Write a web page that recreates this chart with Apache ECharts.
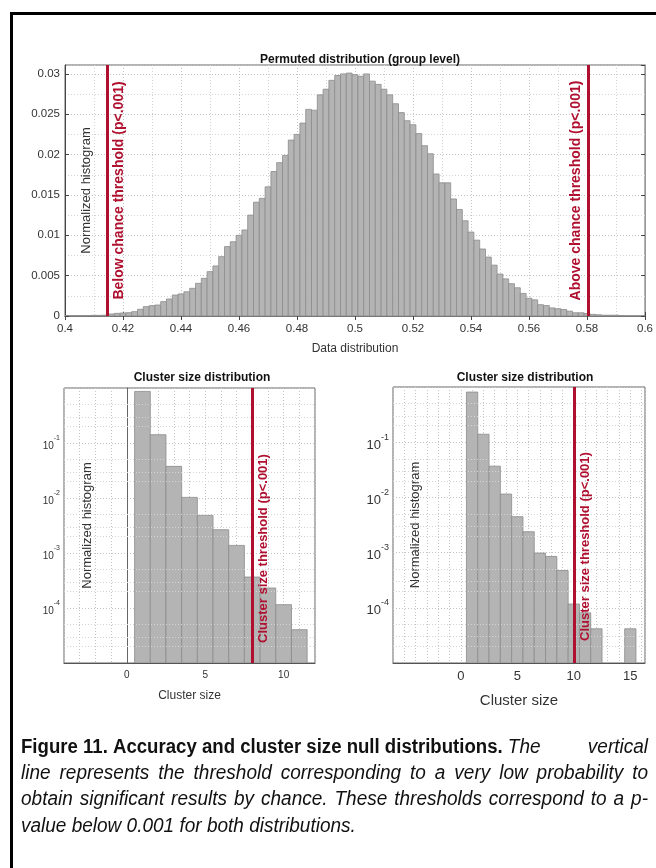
<!DOCTYPE html>
<html>
<head>
<meta charset="utf-8">
<script src="https://cdn.jsdelivr.net/npm/echarts@6/dist/echarts.min.js"></script>
<style>
html, body { margin: 0; padding: 0; background: #fff; }
#chart { width: 656px; height: 868px; }
</style>
</head>
<body>
<div id="chart"></div>
<script>
// permuted (group level) histogram, bin width 0.002
var permCenters = [
  0.400, 0.402, 0.404, 0.406, 0.408, 0.410, 0.412, 0.414, 0.416, 0.418,
  0.420, 0.422, 0.424, 0.426, 0.428, 0.430, 0.432, 0.434, 0.436, 0.438,
  0.440, 0.442, 0.444, 0.446, 0.448, 0.450, 0.452, 0.454, 0.456, 0.458,
  0.460, 0.462, 0.464, 0.466, 0.468, 0.470, 0.472, 0.474, 0.476, 0.478,
  0.480, 0.482, 0.484, 0.486, 0.488, 0.490, 0.492, 0.494, 0.496, 0.498,
  0.500, 0.502, 0.504, 0.506, 0.508, 0.510, 0.512, 0.514, 0.516, 0.518,
  0.520, 0.522, 0.524, 0.526, 0.528, 0.530, 0.532, 0.534, 0.536, 0.538,
  0.540, 0.542, 0.544, 0.546, 0.548, 0.550, 0.552, 0.554, 0.556, 0.558,
  0.560, 0.562, 0.564, 0.566, 0.568, 0.570, 0.572, 0.574, 0.576, 0.578,
  0.580, 0.582, 0.584, 0.586, 0.588, 0.590, 0.592, 0.594, 0.596, 0.598,
  0.600
]
var permValues = [
  0.00005, 0.00005, 0.00005, 0.00005, 0.00005, 0.00008, 0.00008, 0.0001, 0.00025, 0.00033,
  0.00037, 0.00041, 0.00054, 0.00083, 0.00116, 0.00128, 0.00136, 0.00178, 0.00211, 0.0026,
  0.00273, 0.0030, 0.00343, 0.00405, 0.00467, 0.0055, 0.0062, 0.00735, 0.0086, 0.0092,
  0.0100, 0.01066, 0.0125, 0.0141, 0.01458, 0.0160, 0.0179, 0.0190, 0.0199, 0.0218,
  0.0225, 0.0239, 0.0256, 0.0255, 0.0274, 0.0281, 0.0292, 0.0298, 0.0300, 0.0301,
  0.0299, 0.0297, 0.0300, 0.0291, 0.0287, 0.0281, 0.0274, 0.0263, 0.0252, 0.0242,
  0.0237, 0.0226, 0.0211, 0.0201, 0.0176, 0.0165, 0.0165, 0.0145, 0.0132, 0.0118,
  0.0104, 0.0094, 0.0083, 0.0073, 0.0063, 0.0052, 0.0046, 0.0040, 0.0035, 0.0028,
  0.0022, 0.0020, 0.0014, 0.0013, 0.0010, 0.0009, 0.0008, 0.0006, 0.0004, 0.0004,
  0.0003, 0.0002, 0.00015, 0.0001, 0.0001, 0.0001, 0.00005, 0, 0, 0,
  0
]
var permBinWidth = 0.002
var permLowThreshold = 0.4146
var permHighThreshold = 0.5805

// cluster size histograms (log scale)
var clusterSizesA = [1, 2, 3, 4, 5, 6, 7, 8, 9, 10, 11]
var clusterValuesA = [0.867, 0.1415, 0.0376, 0.01026, 0.00483, 0.00265, 0.001374, 0.000366, 0.000231, 0.000115, 0.0000403]
var clusterThresholdA = 8

var clusterSizesB = [1, 2, 3, 4, 5, 6, 7, 8, 9, 10, 11, 12, 15]
var clusterValuesB = [0.81, 0.1395, 0.0368, 0.0115, 0.00447, 0.00239, 0.00098, 0.00085, 0.000473, 0.000117, 0.0000813, 0.0000417, 0.0000417]
var clusterThresholdB = 10

// minor log grid: multipliers inside each decade
var logMinorSteps = [2, 3, 5]

// caption: [bold part, italic part] per line
var captionLines = [
  ['Figure 11. Accuracy and cluster size null distributions.', 'The vertical'],
  ['', 'line represents the threshold corresponding to a very low probability to'],
  ['', 'obtain significant results by chance. These thresholds correspond to a p-'],
  ['', 'value below 0.001 for both distributions.']
]

var FONT = "'Liberation Sans', Arial, sans-serif"
var RED = '#b0102f'
var GRID_LINE = { color: '#c4c4c4', type: [1, 2], width: 1 }
var MINOR_LINE = { color: '#d4d4d4', type: [1, 2], width: 1 }

var chart = echarts.init(document.getElementById('chart'))

var measureCtx = document.createElement('canvas').getContext('2d')
function textWidth(str, font) {
  measureCtx.font = font
  return measureCtx.measureText(str).width
}

function histRender(base) {
  return function (params, api) {
    var c = api.value(0)
    var v = api.value(1)
    var w = api.value(2)
    var a = api.coord([c - w / 2, v])
    var b = api.coord([c + w / 2, base])
    return {
      type: 'rect',
      shape: { x: a[0], y: a[1], width: b[0] - a[0], height: b[1] - a[1] },
      style: { fill: '#b4b4b4', stroke: '#8c8c8c', lineWidth: 0.8 }
    }
  }
}

function logLabel(v) {
  var e = Math.round(Math.log10(v))
  return '{b|10}{s|' + e + '}'
}

function thresholdLine(x, text, pos, size, dist) {
  return {
    xAxis: x,
    label: {
      show: true,
      position: pos,
      formatter: text,
      color: RED,
      fontWeight: 'bold',
      fontSize: size,
      fontFamily: FONT,
      distance: dist
    }
  }
}

function clusterXAxis(idx, min, max, fs) {
  return {
    type: 'value',
    gridIndex: idx,
    min: min,
    max: max,
    interval: 1,
    axisLine: { onZero: false, lineStyle: { color: '#555' } },
    axisTick: { show: false },
    axisLabel: {
      color: '#333',
      fontFamily: FONT,
      fontSize: fs,
      margin: 7,
      formatter: function (v) { return (v >= 0 && v % 5 === 0) ? String(v) : '' },
      showMinLabel: false,
      showMaxLabel: false
    },
    splitLine: { show: true, lineStyle: GRID_LINE },
    name: 'Cluster size',
    nameLocation: 'middle',
    nameGap: fs + 17,
    nameMoveOverlap: false,
    nameTextStyle: { color: '#333', fontFamily: FONT, fontSize: fs + 2 }
  }
}

function clusterYAxis(idx, fs, lineShow, gap) {
  return {
    type: 'log',
    gridIndex: idx,
    min: 0.00001,
    max: 1,
    logBase: 10,
    axisLine: { show: lineShow, onZero: true, lineStyle: { color: '#666' } },
    axisTick: { show: false },
    axisLabel: {
      formatter: logLabel,
      showMinLabel: false,
      showMaxLabel: false,
      margin: 4,
      rich: {
        b: { fontSize: fs, fontFamily: FONT, color: '#333', lineHeight: fs + 6, verticalAlign: 'bottom' },
        s: { fontSize: Math.round(fs * 0.7), fontFamily: FONT, color: '#333', lineHeight: fs + 6, verticalAlign: 'top' }
      }
    },
    splitLine: { show: true, lineStyle: GRID_LINE },
    name: 'Normalized histogram',
    nameLocation: 'middle',
    nameRotate: 90,
    nameGap: gap,
    nameMoveOverlap: false,
    nameTextStyle: { color: '#333', fontFamily: FONT, fontSize: 13 }
  }
}

// dotted minor grid on the log axes (2x, 3x, 5x of each decade)
function logMinorSeries(idx) {
  var lines = []
  for (var e = -5; e < 0; e++) {
    logMinorSteps.forEach(function (k) {
      lines.push({ yAxis: k * Math.pow(10, e) })
    })
  }
  return {
    type: 'line',
    xAxisIndex: idx,
    yAxisIndex: idx,
    data: [],
    z: 1,
    markLine: {
      symbol: 'none',
      silent: true,
      precision: 10,
      label: { show: false },
      lineStyle: MINOR_LINE,
      data: lines
    }
  }
}

// caption, justified word by word like the original
var CAP_SIZE = 20
var boldFont = 'bold ' + CAP_SIZE + 'px "Liberation Sans"'
var italicFont = 'italic ' + CAP_SIZE + 'px "Liberation Sans"'
var capLeft = 21
var capRight = 648
var capTop = 747
var capStep = 26.4
var captionGraphics = []
captionLines.forEach(function (ln, i) {
  var y = capTop + i * capStep
  var x = capLeft
  var bsx = 0.93
  var isx = 0.95
  ln[0].split(' ').filter(Boolean).forEach(function (w) {
    captionGraphics.push({
      type: 'text', x: x, y: y, scaleX: bsx,
      style: { text: w, font: boldFont, fill: '#111', textAlign: 'left', textVerticalAlign: 'middle' }
    })
    x += (textWidth(w, boldFont) + textWidth(' ', boldFont)) * bsx
  })
  var words = ln[1].split(' ').filter(Boolean).map(function (w) {
    return { t: w, w: textWidth(w, italicFont) * isx }
  })
  var total = words.reduce(function (s, w) { return s + w.w }, 0)
  var last = i === captionLines.length - 1
  var gap = last ? textWidth(' ', italicFont) * isx : (capRight - x - total) / (words.length - 1)
  words.forEach(function (w) {
    captionGraphics.push({
      type: 'text', x: x, y: y, scaleX: isx,
      style: { text: w.t, font: italicFont, fill: '#111', textAlign: 'left', textVerticalAlign: 'middle' }
    })
    x += w.w + gap
  })
})

chart.setOption({
  animation: false,
  backgroundColor: '#fff',
  title: [
    { text: 'Permuted distribution (group level)', left: 355, top: 49, textAlign: 'center',
      textStyle: { fontFamily: FONT, fontSize: 12, fontWeight: 'bold', color: '#111' } },
    { text: 'Cluster size distribution', left: 197, top: 367, textAlign: 'center',
      textStyle: { fontFamily: FONT, fontSize: 12, fontWeight: 'bold', color: '#111' } },
    { text: 'Cluster size distribution', left: 520, top: 367, textAlign: 'center',
      textStyle: { fontFamily: FONT, fontSize: 12, fontWeight: 'bold', color: '#111' } }
  ],
  grid: [
    { left: 65, right: 11, top: 65, height: 251, show: true, borderColor: '#666', borderWidth: 1, backgroundColor: 'transparent' },
    { left: 64, width: 251, top: 388, height: 275, show: true, borderColor: '#666', borderWidth: 1, backgroundColor: 'transparent' },
    { left: 393, width: 252, top: 387, height: 276, show: true, borderColor: '#666', borderWidth: 1, backgroundColor: 'transparent' }
  ],
  xAxis: [
    {
      type: 'value',
      gridIndex: 0,
      min: 0.4,
      max: 0.6,
      interval: 0.02,
      axisLine: { lineStyle: { color: '#444' } },
      axisTick: { inside: true, length: 4, lineStyle: { color: '#444' } },
      axisLabel: { color: '#333', fontFamily: FONT, fontSize: 11.5, margin: 7 },
      splitLine: { show: true, lineStyle: GRID_LINE },
      minorTick: { show: false, splitNumber: 2 },
      minorSplitLine: { show: true, lineStyle: MINOR_LINE },
      name: 'Data distribution',
      nameLocation: 'middle',
      nameGap: 27,
      nameMoveOverlap: false,
      nameTextStyle: { color: '#333', fontFamily: FONT, fontSize: 12 }
    },
    clusterXAxis(1, -4, 12, 10),
    clusterXAxis(2, -6, 16.3, 13),
    {
      // top frame ticks of the first panel
      type: 'value',
      gridIndex: 0,
      position: 'top',
      min: 0.4,
      max: 0.6,
      interval: 0.02,
      axisLine: { lineStyle: { color: '#777' } },
      axisTick: { inside: true, length: 4, lineStyle: { color: '#444' } },
      axisLabel: { show: false },
      splitLine: { show: false }
    }
  ],
  yAxis: [
    {
      type: 'value',
      gridIndex: 0,
      min: 0,
      max: 0.0311,
      interval: 0.005,
      axisLine: { lineStyle: { color: '#444' } },
      axisTick: { inside: true, length: 4, lineStyle: { color: '#444' } },
      axisLabel: { color: '#333', fontFamily: FONT, fontSize: 11.5, margin: 5, showMaxLabel: false },
      splitLine: { show: true, lineStyle: GRID_LINE },
      minorTick: { show: false, splitNumber: 2 },
      minorSplitLine: { show: true, lineStyle: MINOR_LINE },
      name: 'Normalized histogram',
      nameLocation: 'middle',
      nameRotate: 90,
      nameGap: -28,
      nameMoveOverlap: false,
      nameTextStyle: { color: '#333', fontFamily: FONT, fontSize: 13 }
    },
    clusterYAxis(1, 10, true, -30),
    clusterYAxis(2, 13, false, -29),
    {
      // right frame ticks of the first panel
      type: 'value',
      gridIndex: 0,
      position: 'right',
      min: 0,
      max: 0.0311,
      interval: 0.005,
      axisLine: { lineStyle: { color: '#999' } },
      axisTick: { inside: true, length: 4, lineStyle: { color: '#444' } },
      axisLabel: { show: false },
      splitLine: { show: false }
    }
  ],
  series: [
    {
      type: 'custom',
      xAxisIndex: 0,
      yAxisIndex: 0,
      clip: true,
      z: 2,
      renderItem: histRender(0),
      encode: { x: 0, y: 1 },
      data: permCenters.map(function (c, i) { return [c, permValues[i], permBinWidth] }),
      markLine: {
        symbol: 'none',
        silent: true,
        precision: 6,
        lineStyle: { color: RED, width: 3, type: 'solid' },
        data: [
          thresholdLine(permLowThreshold, 'Below chance threshold (p<.001)', 'insideMiddleBottom', 14, 5),
          thresholdLine(permHighThreshold, 'Above chance threshold (p<.001)', 'insideMiddleTop', 14, 5)
        ]
      }
    },
    logMinorSeries(1),
    logMinorSeries(2),
    {
      type: 'custom',
      xAxisIndex: 1,
      yAxisIndex: 1,
      clip: true,
      z: 2,
      renderItem: histRender(0.00001),
      encode: { x: 0, y: 1 },
      data: clusterSizesA.map(function (c, i) { return [c, clusterValuesA[i], 1] }),
      markLine: {
        symbol: 'none',
        silent: true,
        precision: 6,
        lineStyle: { color: RED, width: 3, type: 'solid' },
        data: [thresholdLine(clusterThresholdA, 'Cluster size threshold (p<.001)', 'insideStartBottom', 13, [20, 5])]
      }
    },
    {
      type: 'custom',
      xAxisIndex: 2,
      yAxisIndex: 2,
      clip: true,
      z: 2,
      renderItem: histRender(0.00001),
      encode: { x: 0, y: 1 },
      data: clusterSizesB.map(function (c, i) { return [c, clusterValuesB[i], 1] }),
      markLine: {
        symbol: 'none',
        silent: true,
        precision: 6,
        lineStyle: { color: RED, width: 3, type: 'solid' },
        data: [thresholdLine(clusterThresholdB, 'Cluster size threshold (p<.001)', 'insideStartBottom', 13, [22, 5])]
      }
    }
  ],
  graphic: [
    {
      type: 'rect',
      left: 9,
      top: 11,
      shape: { width: 700, height: 900 },
      style: { fill: 'none', stroke: '#000', lineWidth: 3 },
      z: 100
    }
  ].concat(captionGraphics)
})
</script>
</body>
</html>
